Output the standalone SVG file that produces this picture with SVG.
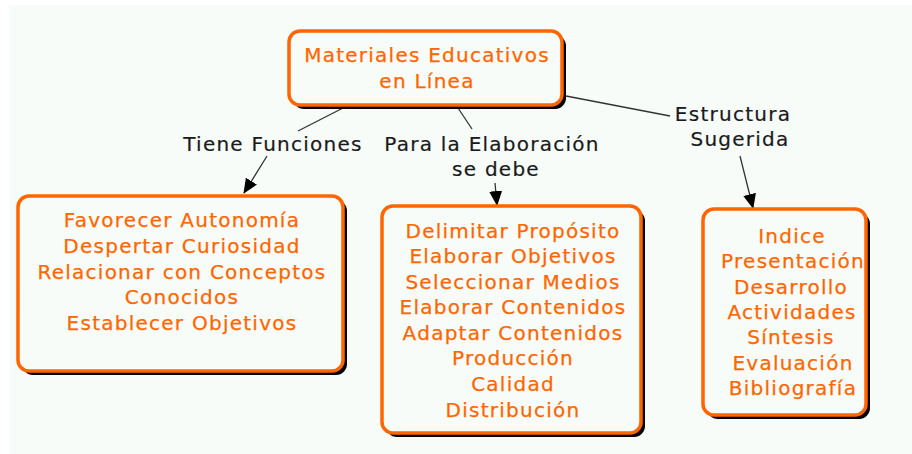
<svg xmlns="http://www.w3.org/2000/svg" width="912" height="454" viewBox="0 0 912 454">
<style>
.bg{fill:#f7fcf9}
.shadow{fill:#000}
.box{fill:#f7fcf9;stroke:#ff6600;stroke-width:3.5}
.t{font-family:"DejaVu Sans",Verdana,sans-serif;font-size:20px;letter-spacing:1.25px;fill:#ff6600;stroke:#ff6600;stroke-width:0.25;text-anchor:middle}
.lbl{font-family:"DejaVu Sans",Verdana,sans-serif;font-size:20px;letter-spacing:1.25px;fill:#1a1a1a;stroke:#1a1a1a;stroke-width:0.2;text-anchor:middle}
.ln{stroke:#333;stroke-width:1.3;fill:none}
</style>
<defs>
<marker id="ah" markerWidth="15" markerHeight="13" refX="14" refY="6.5" orient="auto" markerUnits="userSpaceOnUse">
<path d="M0,0 L15,6.5 L0,13 Z" fill="#000"/>
</marker>
<filter id="blur" x="-10%" y="-10%" width="120%" height="120%"><feGaussianBlur stdDeviation="0.6"/></filter>
</defs>
<rect class="bg" x="9" y="5" width="903" height="449"/>

<g id="connectors">
<line class="ln" x1="343" y1="108" x2="298" y2="131"/>
<line class="ln" x1="267" y1="156" x2="244" y2="193" marker-end="url(#ah)"/>
<line class="ln" x1="458" y1="108" x2="472" y2="129"/>
<line class="ln" x1="495" y1="183" x2="497" y2="205" marker-end="url(#ah)"/>
<line class="ln" x1="566" y1="96" x2="670" y2="116"/>
<line class="ln" x1="740" y1="156" x2="753" y2="208" marker-end="url(#ah)"/>
</g>

<g id="node-main">
<rect class="shadow" filter="url(#blur)" x="293" y="35" width="273" height="74" rx="11"/>
<rect class="box" x="289" y="31" width="273" height="74" rx="11"/>
<text class="t" x="427" y="62">Materiales Educativos</text>
<text class="t" x="427" y="88">en Línea</text>
</g>

<g id="label-funciones">
<text class="lbl" x="273" y="151">Tiene Funciones</text>
</g>
<g id="label-elaboracion">
<text class="lbl" x="492" y="151">Para la Elaboración</text>
<text class="lbl" x="496" y="176">se debe</text>
</g>
<g id="label-estructura">
<text class="lbl" x="733" y="121">Estructura</text>
<text class="lbl" x="740" y="146">Sugerida</text>
</g>

<g id="node-funciones">
<rect class="shadow" filter="url(#blur)" x="22" y="200" width="325" height="175" rx="11"/>
<rect class="box" x="18" y="196" width="325" height="175" rx="11"/>
<text class="t" x="182" y="227">Favorecer Autonomía</text>
<text class="t" x="182" y="253">Despertar Curiosidad</text>
<text class="t" x="182" y="278.5">Relacionar con Conceptos</text>
<text class="t" x="182" y="304">Conocidos</text>
<text class="t" x="182" y="330">Establecer Objetivos</text>
</g>

<g id="node-elaboracion">
<rect class="shadow" filter="url(#blur)" x="386" y="210" width="259" height="227" rx="11"/>
<rect class="box" x="382" y="206" width="259" height="227" rx="11"/>
<text class="t" x="513" y="237.5">Delimitar Propósito</text>
<text class="t" x="513" y="263">Elaborar Objetivos</text>
<text class="t" x="513" y="288.5">Seleccionar Medios</text>
<text class="t" x="513" y="314">Elaborar Contenidos</text>
<text class="t" x="513" y="340">Adaptar Contenidos</text>
<text class="t" x="513" y="365">Producción</text>
<text class="t" x="513" y="390.5">Calidad</text>
<text class="t" x="513" y="416.5">Distribución</text>
</g>

<g id="node-estructura">
<rect class="shadow" filter="url(#blur)" x="707" y="213" width="163" height="206" rx="11"/>
<rect class="box" x="703" y="209" width="163" height="206" rx="11"/>
<text class="t" x="792" y="243">Indice</text>
<text class="t" x="793" y="268">Presentación</text>
<text class="t" x="791" y="293.5">Desarrollo</text>
<text class="t" x="792" y="318.5">Actividades</text>
<text class="t" x="791" y="344">Síntesis</text>
<text class="t" x="793" y="369.5">Evaluación</text>
<text class="t" x="793" y="394.5">Bibliografía</text>
</g>
</svg>
